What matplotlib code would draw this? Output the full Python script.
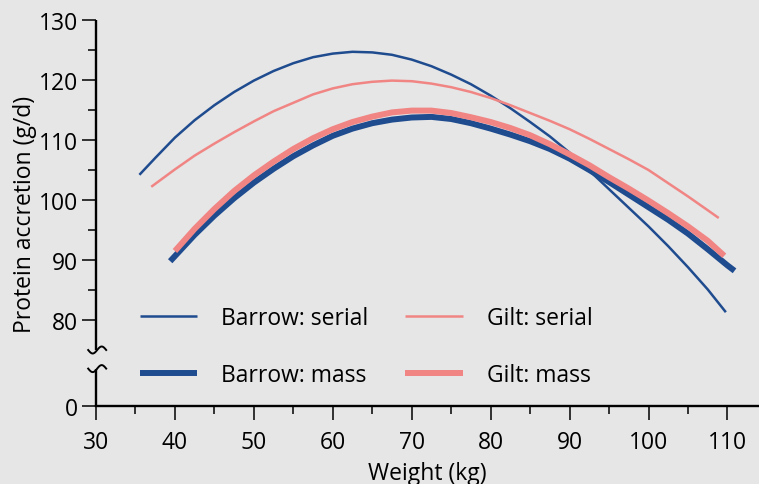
import numpy as np
import matplotlib
matplotlib.use("Agg")
import matplotlib.pyplot as plt

plt.rcParams["font.family"] = ["Open Sans", "DejaVu Sans"]

# Weight (kg) and protein accretion (g/d)
barrow_serial_x = [35.5, 37.5, 40, 42.5, 45, 47.5, 50, 52.5, 55, 57.5, 60, 62.5, 65, 67.5,
                   70, 72.5, 75, 77.5, 80, 82.5, 85, 87.5, 90, 92.5, 95, 97.5, 100, 102.5,
                   105, 107.5, 109.8]
barrow_serial_y = [104.2, 107.0, 110.4, 113.3, 115.8, 118.0, 119.9, 121.5, 122.8, 123.8, 124.4,
                   124.7, 124.6, 124.2, 123.4, 122.3, 120.9, 119.3, 117.4, 115.3, 113.0, 110.6,
                   107.9, 104.9, 101.8, 98.7, 95.6, 92.3, 88.8, 85.1, 81.3]

gilt_serial_x = [37, 40, 42.5, 45, 47.5, 50, 52.5, 55, 57.5, 60, 62.5, 65, 67.5, 70, 72.5,
                 75, 77.5, 80, 82.5, 85, 87.5, 90, 92.5, 95, 97.5, 100, 102.5, 105, 107.5, 108.9]
gilt_serial_y = [102.2, 105.1, 107.4, 109.4, 111.3, 113.1, 114.8, 116.2, 117.6, 118.6, 119.3,
                 119.7, 119.9, 119.8, 119.4, 118.8, 118.0, 117.0, 115.8, 114.5, 113.2, 111.8,
                 110.2, 108.5, 106.8, 105.0, 102.8, 100.6, 98.3, 97.0]

barrow_mass_x = [39.4, 42.5, 45, 47.5, 50, 52.5, 55, 57.5, 60, 62.5, 65, 67.5, 70, 72.5, 75,
                 77.5, 80, 82.5, 85, 87.5, 90, 92.5, 95, 97.5, 100, 102.5, 105, 107.5, 110, 110.9]
barrow_mass_y = [89.8, 94.2, 97.4, 100.3, 102.9, 105.2, 107.3, 109.1, 110.7, 111.9, 112.8,
                 113.4, 113.75, 113.85, 113.5, 112.8, 111.9, 110.9, 109.8, 108.5, 106.9, 105.0,
                 103.0, 100.9, 98.8, 96.7, 94.4, 91.8, 89.1, 88.2]

gilt_mass_x = [40, 42.5, 45, 47.5, 50, 52.5, 55, 57.5, 60, 62.5, 65, 67.5, 70, 72.5, 75, 77.5,
               80, 82.5, 85, 87.5, 90, 92.5, 95, 97.5, 100, 102.5, 105, 107.5, 109.6]
gilt_mass_y = [91.5, 95.2, 98.5, 101.5, 104.1, 106.4, 108.5, 110.3, 111.8, 113.0, 113.9, 114.6,
               114.9, 114.9, 114.5, 113.8, 113.0, 112.0, 110.8, 109.3, 107.6, 105.8, 103.8,
               101.9, 99.9, 97.8, 95.6, 93.2, 90.7]

x_ticks = [30, 40, 50, 60, 70, 80, 90, 100, 110]
y_ticks = [0, 80, 90, 100, 110, 120, 130]

BLUE = "#1f4b8f"
SALMON = "#f08584"
BG = "#e6e6e6"
FS = 16.5

# broken y axis: values from 80 up are drawn as is, 0 sits below the break
Y_ZERO = 80 - 86 / 6.0
BREAK_HI = 75.0
BREAK_LO = 71.9


def ypos(v):
    return Y_ZERO if v == 0 else v


fig = plt.figure(figsize=(7.59, 4.85), dpi=100, facecolor=BG)
ax = fig.add_axes([96 / 759, 78 / 485, 1 - 96 / 759, 386 / 485])
ax.set_facecolor(BG)

l_bs, = ax.plot(barrow_serial_x, barrow_serial_y, color=BLUE, lw=1.8, solid_capstyle="butt")
l_gs, = ax.plot(gilt_serial_x, gilt_serial_y, color=SALMON, lw=1.8, solid_capstyle="butt")
l_bm, = ax.plot(barrow_mass_x, barrow_mass_y, color=BLUE, lw=4.3, solid_capstyle="butt")
l_gm, = ax.plot(gilt_mass_x, gilt_mass_y, color=SALMON, lw=4.3, solid_capstyle="butt")

ax.set_xlim(30, 114)
ax.set_ylim(Y_ZERO, 130)

ax.set_xticks(x_ticks)
ax.set_xticks(np.arange(35, 110, 10), minor=True)
ax.set_yticks([ypos(v) for v in y_ticks])
ax.set_yticklabels([str(v) for v in y_ticks])
ax.set_yticks(np.arange(85, 130, 10), minor=True)
ax.tick_params(which="major", length=10, width=1.1, labelsize=FS, color="black")
ax.tick_params(which="minor", length=5.5, width=1.1, color="black")
ax.tick_params(axis="y", pad=3)
ax.tick_params(axis="x", pad=7)

for side in ["top", "right", "left"]:
    ax.spines[side].set_visible(False)
ax.spines["bottom"].set_linewidth(1.7)

# left spine in two pieces with squiggles at the break
ax.plot([30, 30], [Y_ZERO, BREAK_LO], color="black", lw=1.7, clip_on=False,
        solid_capstyle="butt")
ax.plot([30, 30], [BREAK_HI, 130], color="black", lw=1.7, clip_on=False,
        solid_capstyle="butt")
t = np.linspace(-1, 1, 40)
for yb in [BREAK_LO, BREAK_HI]:
    ax.plot(30 + 9 * t / 7.9 + 0.15, yb + 3.5 * np.sin(np.pi * t) / 6, color="black", lw=1.4,
            clip_on=False)

ax.set_xlabel("Weight (kg)", fontsize=FS, labelpad=5)
ax.set_ylabel("Protein accretion (g/d)", fontsize=FS, labelpad=1)

ax.legend([l_bs, l_bm, l_gs, l_gm],
          ["Barrow: serial", "Barrow: mass", "Gilt: serial", "Gilt: mass"],
          ncol=2, frameon=False, fontsize=FS, handlelength=2.5, handletextpad=1.05,
          columnspacing=1.6, labelspacing=1.45, borderpad=0, borderaxespad=0,
          loc="upper left", bbox_to_anchor=(140 / 759, 1 - 307 / 485),
          bbox_transform=fig.transFigure)

fig.savefig("out.png", dpi=100, facecolor=BG)
